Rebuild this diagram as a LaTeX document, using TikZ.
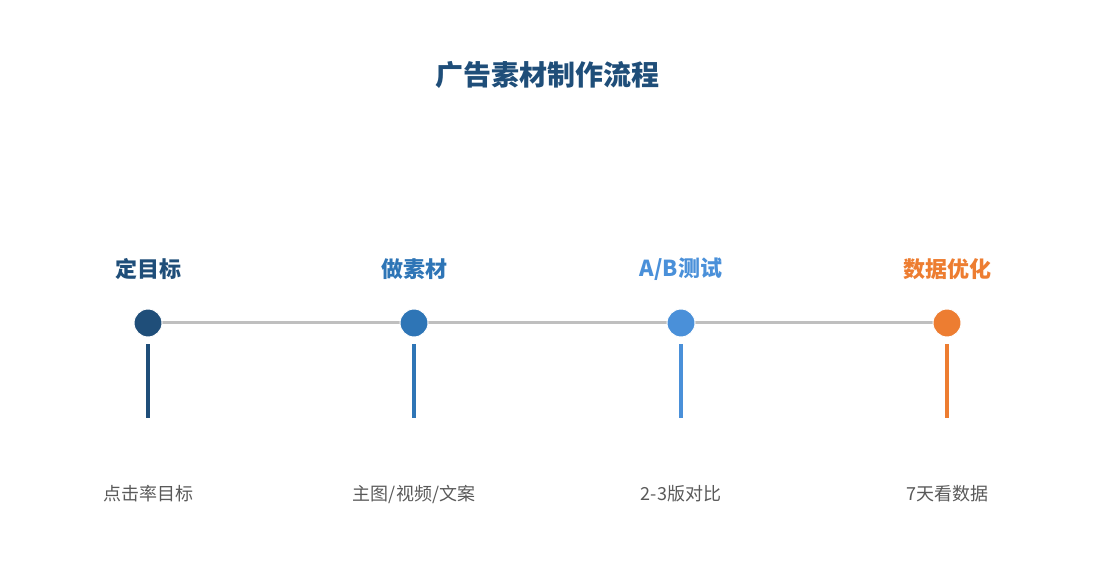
\documentclass[tikz,border=0pt]{standalone}
\usepackage{fontspec}
\newfontfamily\cjk{Noto Sans CJK SC}
\usetikzlibrary{arrows.meta}
\definecolor{c1}{HTML}{1F4E79}
\definecolor{c2}{HTML}{2E75B6}
\definecolor{c3}{HTML}{4A90D9}
\definecolor{c4}{HTML}{ED7D31}
\definecolor{gl}{HTML}{BFBFBF}
\definecolor{tx}{HTML}{595959}
\begin{document}
\begin{tikzpicture}[x=1pt,y=-1pt,
  dot/.style={circle,minimum size=28pt,inner sep=0pt,draw=white,line width=1pt,fill=#1},
  head/.style={font=\cjk\bfseries\fontsize{22}{24}\selectfont,text=#1},
  sub/.style={font=\cjk\fontsize{18}{20}\selectfont,text=tx},
  stem/.style={line width=4pt,draw=#1},
  conn/.style={draw=gl,line width=3pt,-{Straight Barb[length=6pt,width=9pt]}}]
\useasboundingbox (0,0) rectangle (1095,585);
\node[font=\cjk\bfseries\fontsize{28}{30}\selectfont,text=c1] (title) at (547,75) {广告素材制作流程};
\foreach \i/\x/\c/\h/\s in {1/148/c1/{定目标}/{点击率目标},2/414/c2/{做素材}/{主图/视频/文案},3/681/c3/{A/B测试}/{2-3版对比},4/947/c4/{数据优化}/{7天看数据}}{
  \node[head=\c] (h\i) at (\x,269) {\h};
  \node[sub] (s\i) at (\x,494) {\s};
  \coordinate (a\i) at (\x,344);
  \coordinate (b\i) at (\x,418);
  \draw[stem=\c] (a\i) -- (b\i);
}
\draw[conn] (148,323) coordinate (p1) -- (414,323) coordinate (p2);
\draw[conn] (p2) -- (681,323) coordinate (p3);
\draw[conn] (p3) -- (947,323) coordinate (p4);
\node[dot=c1] (d1) at (p1) {};
\node[dot=c2] (d2) at (p2) {};
\node[dot=c3] (d3) at (p3) {};
\node[dot=c4] (d4) at (p4) {};
\end{tikzpicture}
\end{document}
